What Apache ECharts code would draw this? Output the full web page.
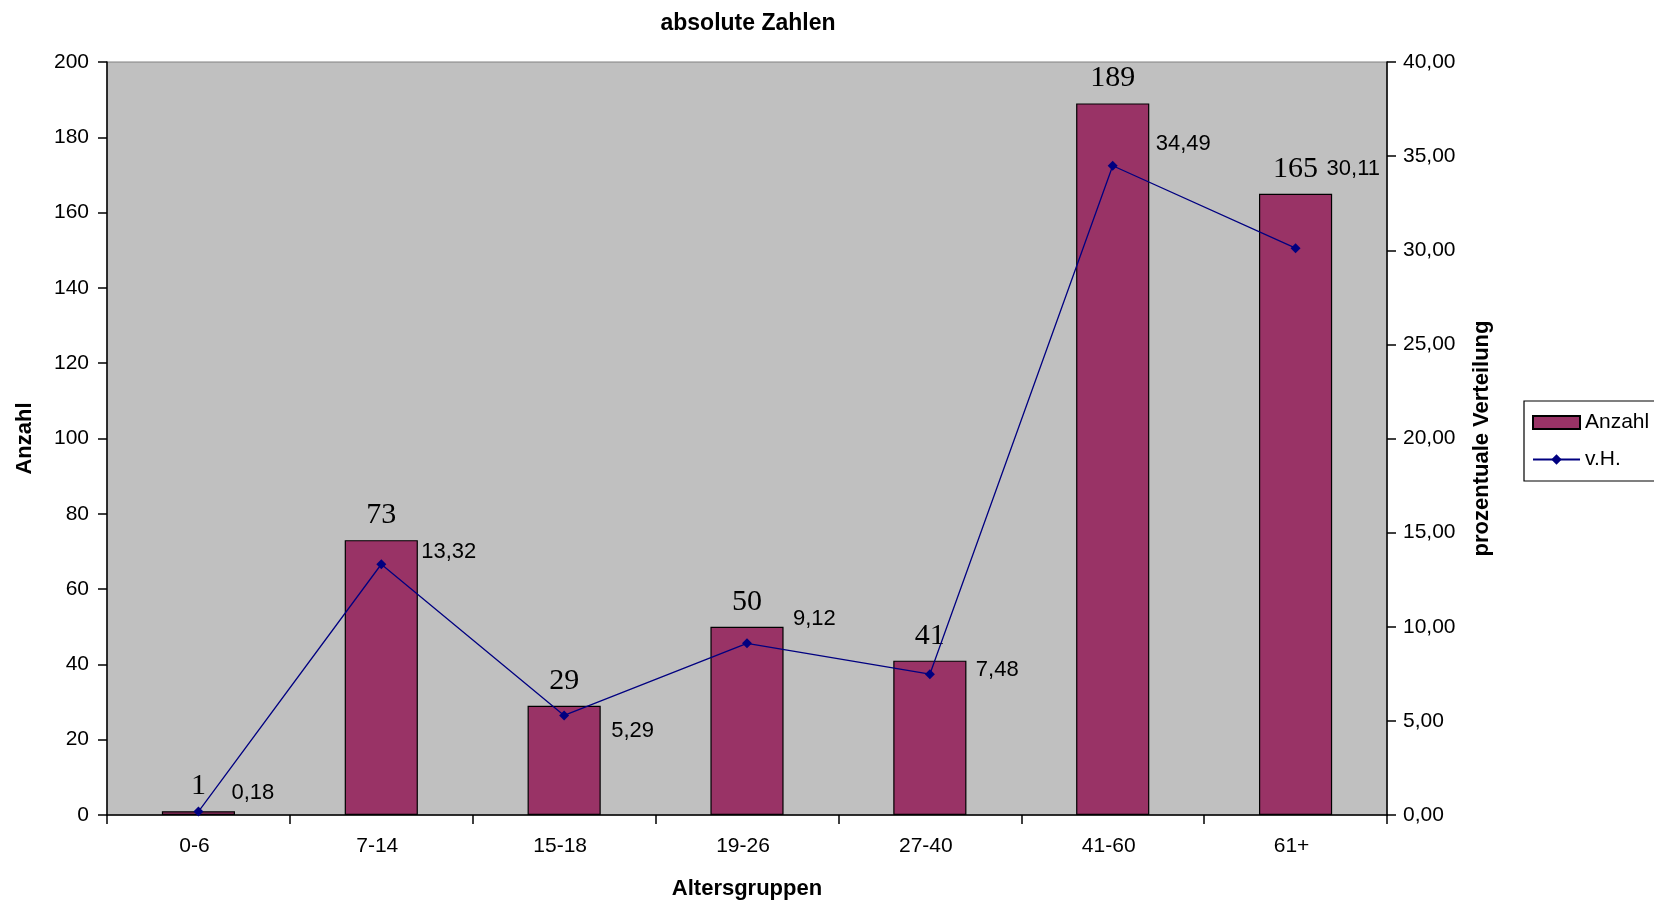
<!DOCTYPE html>
<html>
<head>
<meta charset="utf-8">
<script src="https://cdn.jsdelivr.net/npm/echarts@6/dist/echarts.min.js"></script>
<style>
html,body{margin:0;padding:0;background:#fff;}
#c{width:1654px;height:902px;}
</style>
</head>
<body>
<div id="c"></div>
<script>
const categories = ['0-6', '7-14', '15-18', '19-26', '27-40', '41-60', '61+'];
const anzahl = [1, 73, 29, 50, 41, 189, 165];
const vH = [0.18, 13.32, 5.29, 9.12, 7.48, 34.49, 30.11];
const leftTicks = { min: 0, max: 200, interval: 20 };
const rightTicks = { min: 0, max: 40, interval: 5 };

// label nudges (styling only, as in the reference's Excel layout)
const lineLabelNudge = [[28, -19], [35, -12], [42, 16], [41, -24], [41, -4], [38, -22], [26, -79]];

const fmt = v => v.toFixed(2).replace('.', ',');
const sans = 'Liberation Sans, Arial, sans-serif';

const chart = echarts.init(document.getElementById('c'));
chart.setOption({
  animation: false,
  backgroundColor: '#fff',
  title: {
    text: 'absolute Zahlen',
    left: 743, top: 7, textAlign: 'center',
    textStyle: { fontFamily: sans, fontSize: 23, fontWeight: 'bold', color: '#000' }
  },
  grid: {
    left: 107, right: 267, top: 62, bottom: 87,
    outerBoundsMode: 'none', containLabel: false,
    show: true, backgroundColor: '#C0C0C0', borderColor: '#808080', borderWidth: 1
  },
  legend: {
    orient: 'vertical', left: 1524, top: 401,
    backgroundColor: '#fff', borderColor: '#000', borderWidth: 1.2,
    padding: [11, 8, 11, 8], itemGap: 16, itemWidth: 47, itemHeight: 13,
    textStyle: { fontFamily: sans, fontSize: 21, color: '#000', padding: [0, 0, 0, 0] },
    data: [
      { name: 'Anzahl', icon: 'rect' },
      { name: 'v.H.' }
    ]
  },
  xAxis: {
    type: 'category', data: categories,
    name: 'Altersgruppen', nameLocation: 'middle', nameGap: 63,
    nameTextStyle: { fontFamily: sans, fontSize: 22, fontWeight: 'bold', color: '#000' },
    axisLine: { lineStyle: { color: '#000', width: 1.5 } },
    axisTick: { show: true, length: 9, lineStyle: { color: '#000', width: 1.5 } },
    axisLabel: { fontFamily: sans, fontSize: 21, color: '#000', margin: 21, padding: [0, 8, 0, 0] }
  },
  yAxis: [
    {
      type: 'value', min: leftTicks.min, max: leftTicks.max, interval: leftTicks.interval,
      name: 'Anzahl', nameLocation: 'middle', nameGap: 71, nameRotate: 90,
      nameTextStyle: { fontFamily: sans, fontSize: 22, fontWeight: 'bold', color: '#000' },
      axisLine: { show: true, lineStyle: { color: '#000', width: 1.5 } },
      axisTick: { show: true, length: 9, lineStyle: { color: '#000', width: 1.5 } },
      axisLabel: { fontFamily: sans, fontSize: 21, color: '#000', margin: 18 },
      splitLine: { show: false }
    },
    {
      type: 'value', min: rightTicks.min, max: rightTicks.max, interval: rightTicks.interval,
      name: 'prozentuale Verteilung', nameLocation: 'middle', nameGap: 84, nameRotate: 90,
      nameTextStyle: { fontFamily: sans, fontSize: 22, fontWeight: 'bold', color: '#000' },
      axisLine: { show: true, lineStyle: { color: '#000', width: 1.5 } },
      axisTick: { show: true, length: 9, lineStyle: { color: '#000', width: 1.5 } },
      axisLabel: { fontFamily: sans, fontSize: 21, color: '#000', margin: 16, formatter: fmt },
      splitLine: { show: false }
    }
  ],
  series: [
    {
      name: 'Anzahl', type: 'bar', data: anzahl, yAxisIndex: 0,
      barWidth: '40%',
      itemStyle: { color: '#993366', borderColor: '#000', borderWidth: 1.2 },
      label: {
        show: true, position: 'top', distance: 10,
        fontFamily: 'Liberation Serif, Times New Roman, serif', fontSize: 30, color: '#000'
      }
    },
    {
      name: 'v.H.', type: 'line', data: vH.map((v, i) => ({
        value: v,
        label: { offset: lineLabelNudge[i] }
      })),
      yAxisIndex: 1,
      symbol: 'diamond', symbolSize: 10,
      lineStyle: { color: '#000080', width: 1.3 },
      itemStyle: { color: '#000080' },
      label: {
        show: true, position: 'right', distance: 0,
        fontFamily: sans, fontSize: 22, color: '#000',
        formatter: p => fmt(p.value)
      },
      z: 5
    }
  ]
});
</script>
</body>
</html>
